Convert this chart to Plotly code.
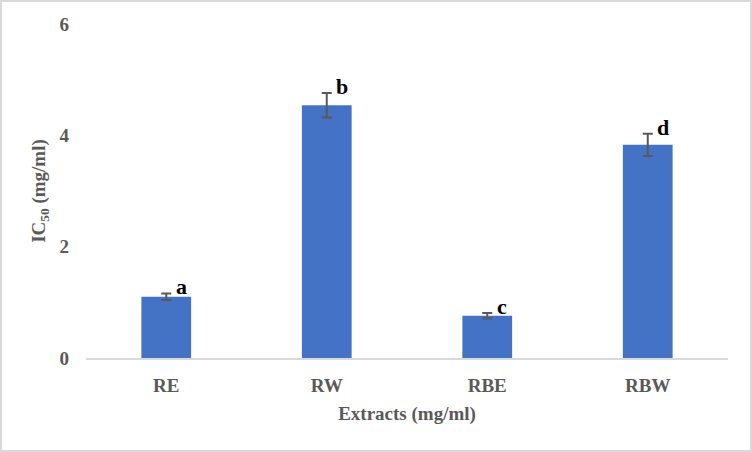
import plotly.graph_objects as go

categories = ["RE", "RW", "RBE", "RBW"]
ic50 = [1.10, 4.54, 0.76, 3.83]
errors = [0.06, 0.22, 0.05, 0.20]
letters = ["a", "b", "c", "d"]

W, H = 752, 452
ml, mr, mt, mb = 86, 24, 24, 94
pw, ph = W - ml - mr, H - mt - mb

fig = go.Figure()
fig.add_trace(go.Bar(
    x=categories, y=ic50,
    width=0.31,
    marker=dict(color="#4472C4", line=dict(width=0)),
    error_y=dict(type="data", array=errors, visible=True,
                 color="#595959", thickness=2, width=5),
))

for c, v, e, L in zip(categories, ic50, errors, letters):
    fig.add_annotation(x=c, y=v + e, text=L, showarrow=False,
                       xanchor="center", yanchor="bottom", xshift=15, yshift=-8,
                       font=dict(family="Liberation Serif", size=22, color="#000000",
                                 weight="bold"))

# outer chart border
fig.add_shape(type="rect", xref="paper", yref="paper",
              x0=(1 - ml) / pw, x1=(W - 1 - ml) / pw,
              y0=(H - mb - (H - 1)) / ph, y1=(H - mb - 1) / ph,
              line=dict(color="#D9D9D9", width=2), fillcolor="rgba(0,0,0,0)", layer="below")

font_axis = dict(family="Liberation Serif", size=19, color="#595959", weight="bold")
fig.update_layout(
    width=W, height=H,
    margin=dict(l=ml, r=mr, t=mt, b=mb),
    paper_bgcolor="white", plot_bgcolor="white",
    showlegend=False,
    font=font_axis,
    xaxis=dict(
        title=dict(text="Extracts (mg/ml)", font=font_axis, standoff=12),
        tickfont=font_axis, showline=True, linecolor="#D9D9D9", linewidth=1.5,
        ticks="", showgrid=False, ticklabelstandoff=9,
    ),
    yaxis=dict(
        title=dict(text="IC<sub>50</sub> (mg/ml)", font=font_axis, standoff=8),
        tickfont=font_axis, range=[0, 6], tickvals=[0, 2, 4, 6],
        showgrid=False, zeroline=False, showline=False, ticks="",
        ticklabelstandoff=16,
    ),
)

fig.write_html("out.html", config={"displayModeBar": False},
               post_script="document.body.style.margin='0';document.body.style.overflow='hidden';")
